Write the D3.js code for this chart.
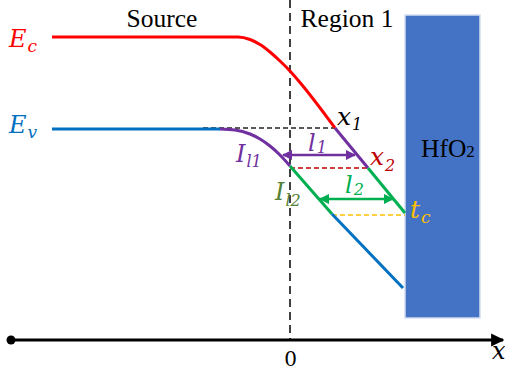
<!DOCTYPE html>
<html><head><meta charset="utf-8">
<script src="https://cdn.jsdelivr.net/npm/d3@7"></script>
<style>
html,body{margin:0;padding:0;background:#fff;}
svg{display:block;}
</style></head>
<body>
<svg id="chart" width="505" height="375"></svg>
<script>
// ---- data (x: position, 0 at the dashed line; E: energy, arbitrary units) ----
const ecRed     = [[-23.8,30.3],[-5.2,30.3],[-4,30.05],[-3,29.55],[-2,28.8],[-1,27.9],[0,26.9],[1,25.75],[4.5,21.2]];
const ecPurple  = [[4.5,21.2],[7.8,17.2]];
const ecGreen   = [[7.8,17.2],[11.5,12.7]];
const evBlue    = [[-23.8,21.1],[-7.0,21.1]];
const evPurple  = [[-7.0,21.1],[-5.5,21.0],[-4,20.6],[-3,20.1],[-2,19.4],[-1,18.5],[0,17.4]];
const evGreen   = [[0,17.4],[4.2,12.6]];
const evBlue2   = [[4.2,12.6],[11.3,5.2]];
const dashBlack = [[-8.7,21.2],[4.5,21.2]];
const dashRed   = [[0,17.2],[7.8,17.2]];
const dashOrange= [[4.2,12.5],[11.5,12.5]];
const arrowL1   = [[-0.7,18.5],[6.5,18.5]];
const arrowL2   = [[3.0,14.1],[10.3,14.1]];
const oxide     = {x0:11.5, x1:19.0, e0:2.2, e1:32.5};
const regionLabels = ["Source","Region 1"];
const tickValues = [0];
const tickLabels = ["0"];

const svg = d3.select("#chart");
const x = d3.scaleLinear().domain([-24,21.5]).range([50,505]);
const y = d3.scaleLinear().domain([0,34]).range([340,0]);

const defs = svg.append("defs");
function marker(id,color,size){
  defs.append("marker").attr("id",id).attr("viewBox","0 0 10 10").attr("refX",9).attr("refY",5)
    .attr("markerWidth",size).attr("markerHeight",size).attr("orient","auto-start-reverse")
    .append("path").attr("d","M0,0 L10,5 L0,10 z").attr("fill",color);
}
marker("mPurple","#7030A0",4.2);
marker("mGreen","#00B050",4.2);
marker("mBlack","#000",4.4);

// oxide block
svg.append("rect").attr("x",x(oxide.x0)).attr("y",y(oxide.e1))
  .attr("width",x(oxide.x1)-x(oxide.x0)).attr("height",y(oxide.e0)-y(oxide.e1))
  .attr("fill","#4472C4").attr("stroke","#D5DEF0").attr("stroke-width",1.5);

// vertical dashed line at x=0
svg.append("line").attr("x1",x(0)).attr("x2",x(0)).attr("y1",0).attr("y2",y(0))
  .attr("stroke","#404040").attr("stroke-width",2).attr("stroke-dasharray","8,5");

const line = d3.line().x(d=>x(d[0])).y(d=>y(d[1])).curve(d3.curveMonotoneX);
function path(data,color,w,dash){
  const p = svg.append("path").datum(data).attr("d",line).attr("fill","none")
    .attr("stroke",color).attr("stroke-width",w).attr("stroke-linecap","butt");
  if(dash) p.attr("stroke-dasharray",dash);
  return p;
}
// dashed helper lines
path(dashBlack,"#222",1.5,"5,3");
path(dashRed,"#C00000",1.5,"5,3");
path(dashOrange,"#FFC000",1.5,"5,3");

// bands
path(ecRed,"#FF0000",3);
path(ecPurple,"#7030A0",3);
path(ecGreen,"#00B050",3);
path(evBlue,"#0070C0",3);
path(evPurple,"#7030A0",3);
path(evGreen,"#00B050",3);
path(evBlue2,"#0070C0",3);

// double arrows
path(arrowL1,"#7030A0",2.5).attr("marker-start","url(#mPurple)").attr("marker-end","url(#mPurple)");
path(arrowL2,"#00B050",2.5).attr("marker-start","url(#mGreen)").attr("marker-end","url(#mGreen)");

// x axis
svg.append("line").attr("x1",11).attr("x2",503).attr("y1",y(0)).attr("y2",y(0))
  .attr("stroke","#000").attr("stroke-width",3).attr("marker-end","url(#mBlack)");
svg.append("circle").attr("cx",11).attr("cy",y(0)).attr("r",4.5).attr("fill","#000");
const axis = d3.axisBottom(x).tickValues(tickValues).tickFormat((d,i)=>tickLabels[i]).tickSize(0).tickPadding(12);
const gA = svg.append("g").attr("transform",`translate(0,${y(0)})`).call(axis);
gA.select(".domain").remove();
gA.selectAll("text").attr("font-family","'DejaVu Serif', serif").attr("font-size",20).attr("fill","#000");

// region labels
const serif = "'Liberation Serif','Times New Roman',serif";
svg.append("text").attr("x",162).attr("y",27).attr("text-anchor","middle")
  .attr("font-family",serif).attr("font-size",25.5).text(regionLabels[0]);
svg.append("text").attr("x",347).attr("y",27).attr("text-anchor","middle")
  .attr("font-family",serif).attr("font-size",25.5).text(regionLabels[1]);
const hf = svg.append("text").attr("x",421).attr("y",157).attr("font-family",serif).attr("font-size",25.5).attr("fill","#000");
hf.append("tspan").text("HfO");
hf.append("tspan").attr("font-size",17).text("2");

// math labels
const mathF = "'DejaVu Serif', serif";
function mlabel(px,py,main,sub,color,size,subSize,subDy){
  const t = svg.append("text").attr("x",px).attr("y",py).attr("font-family",mathF)
    .attr("font-style","italic").attr("font-size",size).attr("fill",color);
  t.append("tspan").text(main);
  t.append("tspan").attr("font-size",subSize).attr("dy",subDy).attr("dx",1).text(sub);
}
mlabel(9,47,"E","c","#FF0000",24,17,5);
mlabel(9,133,"E","v","#0070C0",24,17,5);
mlabel(236,162,"I","l1","#7030A0",24,16,5);
mlabel(275,200,"I","l2","#548235",24,16,6);
mlabel(337,125,"x","1","#000",25,16,5);
mlabel(370,165,"x","2","#C00000",25,16,6);
mlabel(308,151,"l","1","#7030A0",24,16,2);
mlabel(345,193,"l","2","#00B050",24,16,2);
mlabel(410,218,"t","c","#FFC000",25,17,5);
mlabel(492,359,"x","","#000",24,15,0);
</script>
</body></html>
